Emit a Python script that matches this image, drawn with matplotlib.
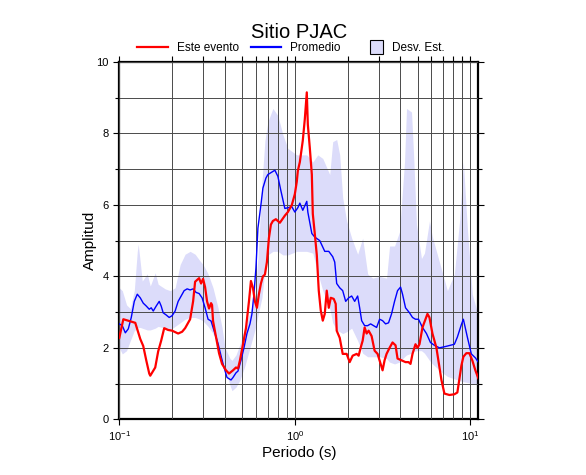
import matplotlib
matplotlib.use("Agg")
import matplotlib.pyplot as plt
from matplotlib.lines import Line2D
from matplotlib.patches import Patch, Rectangle
from matplotlib.legend_handler import HandlerPatch
from matplotlib.ticker import MultipleLocator, LogLocator, NullFormatter

plt.rcParams['font.family'] = ['Liberation Sans', 'DejaVu Sans']

# Este evento (periodo s, amplitud)
evento_T = [0.100, 0.1054, 0.1233, 0.1316, 0.1369, 0.1424, 0.1481, 0.1501, 0.1602, 0.1665,
            0.1732, 0.1802, 0.1898, 0.2000, 0.2164, 0.2280, 0.2371, 0.2466, 0.2532, 0.2633,
            0.2703, 0.2848, 0.2924, 0.3001, 0.3081, 0.3162, 0.3246, 0.3332, 0.3376, 0.3420,
            0.3557, 0.3700, 0.3848, 0.4055, 0.4217, 0.4444, 0.4622, 0.4745, 0.4870, 0.5065,
            0.5268, 0.5479, 0.5623, 0.5772, 0.5925, 0.6082, 0.6243, 0.6409, 0.6579, 0.6754,
            0.6933, 0.7117, 0.7305, 0.7499, 0.7798, 0.8218, 0.8774, 0.9126, 0.9616, 1.000,
            1.026, 1.040, 1.068, 1.096, 1.110, 1.140, 1.170, 1.186, 1.217, 1.250,
            1.266, 1.299, 1.334, 1.369, 1.405, 1.443, 1.481,
            1.520, 1.561, 1.602, 1.666, 1.710, 1.732, 1.802, 1.874, 1.974, 2.054,
            2.136, 2.251, 2.310, 2.371, 2.435, 2.499, 2.566, 2.633, 2.738, 2.848,
            2.962, 3.081, 3.162, 3.246, 3.332, 3.466, 3.604, 3.749, 3.848, 4.055,
            4.273, 4.444, 4.562, 4.683, 4.870, 5.000, 5.132, 5.337, 5.697, 5.848,
            6.082, 6.409, 6.843, 7.117, 7.598, 8.111, 8.435, 8.890, 9.126, 9.490,
            9.870, 10.26, 10.68, 11.1]
evento_A = [2.28, 2.80, 2.70, 2.25, 2.05, 1.65, 1.28, 1.22, 1.45, 1.90,
            2.20, 2.55, 2.50, 2.48, 2.40, 2.45, 2.55, 2.70, 2.80, 3.30,
            3.85, 3.95, 3.80, 3.93, 3.70, 3.30, 3.10, 3.25, 3.20, 2.75,
            2.30, 1.85, 1.55, 1.37, 1.28, 1.37, 1.45, 1.42, 1.65, 2.10,
            2.55, 3.30, 3.87, 3.68, 3.30, 3.12, 3.50, 3.80, 4.00, 4.05,
            4.40, 5.07, 5.45, 5.55, 5.60, 5.50, 5.70, 5.80, 6.00, 6.30,
            6.65, 6.95, 7.20, 7.60, 7.80, 8.40, 9.15, 8.25, 7.60, 6.85,
            5.75, 5.20, 4.60, 3.60, 3.05, 2.76, 2.95,
            3.60, 3.12, 3.40, 3.37, 3.23, 2.48, 2.28, 1.83, 1.83, 1.60,
            1.78, 1.83, 1.78, 2.00, 2.20, 2.57, 2.40, 2.48, 2.33, 1.92,
            1.83, 1.55, 1.37, 1.65, 1.83, 2.00, 2.15, 2.07, 1.70, 1.65,
            1.60, 1.60, 1.55, 1.83, 2.10, 2.00, 2.10, 2.57, 2.95, 2.85,
            2.40, 2.00, 1.10, 0.72, 0.68, 0.70, 0.75, 1.50, 1.75, 1.85,
            1.85, 1.65, 1.37, 1.15]

# Promedio
prom_T = [0.100, 0.1040, 0.1082, 0.1125, 0.1170, 0.1217, 0.1266, 0.1316, 0.1369, 0.1424,
          0.1481, 0.1520, 0.1561, 0.1623, 0.1688, 0.1732, 0.1778, 0.1849, 0.1923, 0.2000,
          0.2080, 0.2164, 0.2251, 0.2341, 0.2435, 0.2532, 0.2633, 0.2738, 0.2848, 0.2962,
          0.3081, 0.3204, 0.3332, 0.3466, 0.3652, 0.3798, 0.3951, 0.4109, 0.4329, 0.4444,
          0.4622, 0.4745, 0.4934, 0.5132, 0.5337, 0.5551, 0.5697, 0.5848, 0.6003, 0.6162,
          0.6409, 0.6579, 0.6843, 0.7025, 0.7698, 0.8005, 0.8326, 0.8774, 0.9126, 0.9616,
          1.000, 1.040, 1.068, 1.110, 1.170, 1.186, 1.250, 1.299, 1.387, 1.481,
          1.561, 1.644, 1.688,
          1.732, 1.802, 1.874, 1.949, 2.027, 2.108, 2.193, 2.280, 2.341, 2.403,
          2.499, 2.599, 2.703, 2.811, 2.924, 3.041, 3.162, 3.289, 3.420, 3.557,
          3.700, 3.848, 4.003, 4.109, 4.273, 4.503, 4.683, 4.870, 5.065, 5.337,
          5.623, 5.925, 6.243, 6.667, 7.117, 7.402, 8.111, 8.435, 8.890, 9.126,
          9.616, 10.13, 10.68, 11.1]
prom_A = [2.67, 2.62, 2.42, 2.53, 2.85, 3.30, 3.50, 3.40, 3.25, 3.17,
          3.08, 3.12, 3.03, 3.17, 3.30, 3.17, 2.98, 2.92, 2.85, 2.90,
          3.03, 3.30, 3.45, 3.60, 3.65, 3.62, 3.65, 3.55, 3.52, 3.40,
          3.12, 2.80, 2.75, 2.48, 2.12, 1.78, 1.45, 1.17, 1.10, 1.17,
          1.30, 1.35, 1.65, 2.00, 2.40, 2.67, 2.95, 3.50, 4.23, 5.35,
          6.00, 6.47, 6.75, 6.85, 6.97, 6.80, 6.40, 5.90, 5.92, 5.95,
          5.80, 5.92, 6.05, 5.85, 6.10, 5.80, 5.20, 5.10, 5.00, 4.70,
          4.70, 4.55, 4.40,
          3.80, 3.68, 3.60, 3.30, 3.40, 3.45, 3.30, 3.45, 3.12, 2.76,
          2.62, 2.62, 2.67, 2.62, 2.57, 2.80, 2.76, 2.67, 2.70, 2.95,
          3.30, 3.60, 3.70, 3.50, 3.12, 2.98, 2.85, 2.80, 2.80, 2.57,
          2.40, 2.15, 2.07, 2.00, 2.03, 2.05, 2.10, 2.30, 2.65, 2.80,
          2.30, 1.83, 1.72, 1.60]

# Desv. Est. (banda)
desv_T = [0.100, 0.104, 0.110, 0.1155, 0.1217, 0.1266, 0.1282, 0.1316, 0.1351, 0.1443,
          0.1501, 0.1602, 0.1665, 0.1825, 0.1949, 0.2080, 0.2222, 0.2371, 0.2532, 0.2703,
          0.2886, 0.3001, 0.3204, 0.3420, 0.3652, 0.3848, 0.4003, 0.4273, 0.4386, 0.4622,
          0.4870, 0.5200, 0.5551, 0.5925, 0.6162, 0.6494, 0.6754, 0.7025, 0.7499, 0.8005,
          0.8546, 0.9126, 1.026, 1.170, 1.266, 1.351, 1.443, 1.581, 1.644, 1.732,
          1.802, 1.874, 1.974, 2.108, 2.280, 2.435, 2.599, 2.774, 3.041, 3.332,
          3.466, 3.700, 3.951, 4.217, 4.329, 4.622, 4.750, 4.934, 5.268, 5.479,
          5.848, 6.082, 6.933, 7.402, 8.111, 8.700, 9.126, 9.616, 10.26, 11.1]
desv_hi = [3.68, 3.60, 3.20, 3.10, 3.60, 4.70, 4.90, 4.40, 3.87, 4.07,
           3.73, 4.10, 3.78, 3.65, 3.60, 3.68, 4.33, 4.62, 4.70, 4.62,
           4.43, 4.33, 4.07, 3.68, 3.12, 2.57, 2.00, 1.70, 1.65, 1.80,
           2.10, 2.57, 3.00, 3.40, 4.50, 6.60, 7.80, 8.33, 8.70, 8.50,
           7.97, 7.58, 7.40, 7.40, 7.20, 7.40, 7.30, 6.85, 7.77, 7.83,
           7.40, 6.20, 5.55, 5.07, 4.62, 5.07, 4.07, 3.95, 4.00, 3.95,
           4.85, 4.85, 5.25, 7.20, 8.70, 8.60, 7.40, 5.45, 4.50, 4.65,
           5.55, 5.10, 4.10, 3.60, 4.07, 5.60, 7.20, 5.35, 3.50, 2.90]
desv_lo = [2.00, 1.83, 1.92, 2.20, 2.48, 2.55, 2.57, 2.57, 2.55, 2.50,
           2.50, 2.55, 2.60, 2.55, 2.50, 2.60, 2.70, 2.80, 2.85, 2.85,
           2.80, 2.75, 2.60, 2.40, 2.05, 1.75, 1.40, 0.95, 0.80, 0.90,
           1.10, 1.50, 2.00, 2.50, 2.90, 3.40, 4.20, 4.60, 4.70, 4.70,
           4.60, 4.60, 4.70, 4.70, 4.65, 4.10, 3.60, 3.10, 2.70, 2.50,
           2.45, 2.40, 2.45, 2.55, 2.20, 1.85, 1.75, 1.75, 1.75, 1.70,
           1.60, 1.55, 1.60, 1.75, 1.80, 1.85, 1.90, 1.92, 1.92, 1.85,
           1.65, 1.55, 1.30, 1.20, 1.13, 1.08, 1.05, 1.03, 1.00, 0.97]

BAND = '#dcdcfa'


def square_patch(legend, orig_handle, xdescent, ydescent, width, height, fontsize):
    s = fontsize * 1.15
    return Rectangle((-xdescent + width - s, -ydescent + (height - s) / 2), s, s)


fig = plt.figure(figsize=(5.86, 4.75), dpi=100)
ax = fig.add_axes([0.2036, 0.1173, 0.6126, 0.7522])

ax.fill_between(desv_T, desv_lo, desv_hi, color=BAND, lw=0, zorder=1)
ax.plot(prom_T, prom_A, color='#0000ff', lw=1.0, zorder=3)
ax.plot(evento_T, evento_A, color='#ff0000', lw=1.6, zorder=4)

ax.set_xscale('log')
ax.set_xlim(0.1, 11.1)
ax.set_ylim(0, 10)
ax.xaxis.set_major_locator(LogLocator(base=10))
ax.xaxis.set_minor_locator(LogLocator(base=10, subs=range(2, 10)))
ax.xaxis.set_minor_formatter(NullFormatter())
ax.yaxis.set_major_locator(MultipleLocator(2))
ax.yaxis.set_minor_locator(MultipleLocator(1))

ax.set_axisbelow(False)
ax.grid(True, which='both', color='#4a4a4a', lw=0.7, zorder=2)

for s in ax.spines.values():
    s.set_linewidth(1.6)
ax.tick_params(axis='both', which='both', direction='out', labelsize=8, width=0.8)
ax.tick_params(axis='y', which='major', length=4, right=True)
ax.tick_params(axis='y', which='minor', length=3, right=True)
ax.tick_params(axis='x', which='major', length=4, top=True)
ax.tick_params(axis='x', which='minor', length=4, bottom=False, top=True)

ax.set_xlabel('Periodo (s)', fontsize=11, labelpad=2)
ax.set_ylabel('Amplitud', fontsize=11, labelpad=0)

fig.text(299 / 586, 1 - 33 / 475, 'Sitio PJAC', fontsize=14.5, ha='center', va='center')

handles = [Line2D([], [], color='#ff0000', lw=1.6),
           Line2D([], [], color='#0000ff', lw=1.6),
           Patch(facecolor=BAND, edgecolor='black', lw=0.8)]
fig.legend(handles, ['Este evento', 'Promedio', 'Desv. Est.'], loc='center',
           bbox_to_anchor=(291 / 586, 1 - 48 / 475), ncol=3, frameon=False,
           fontsize=8.5, handlelength=2.6, handletextpad=0.75, columnspacing=1.0,
           borderpad=0, borderaxespad=0,
           handler_map={Patch: HandlerPatch(patch_func=square_patch)})

fig.savefig('out.png', dpi=100)
